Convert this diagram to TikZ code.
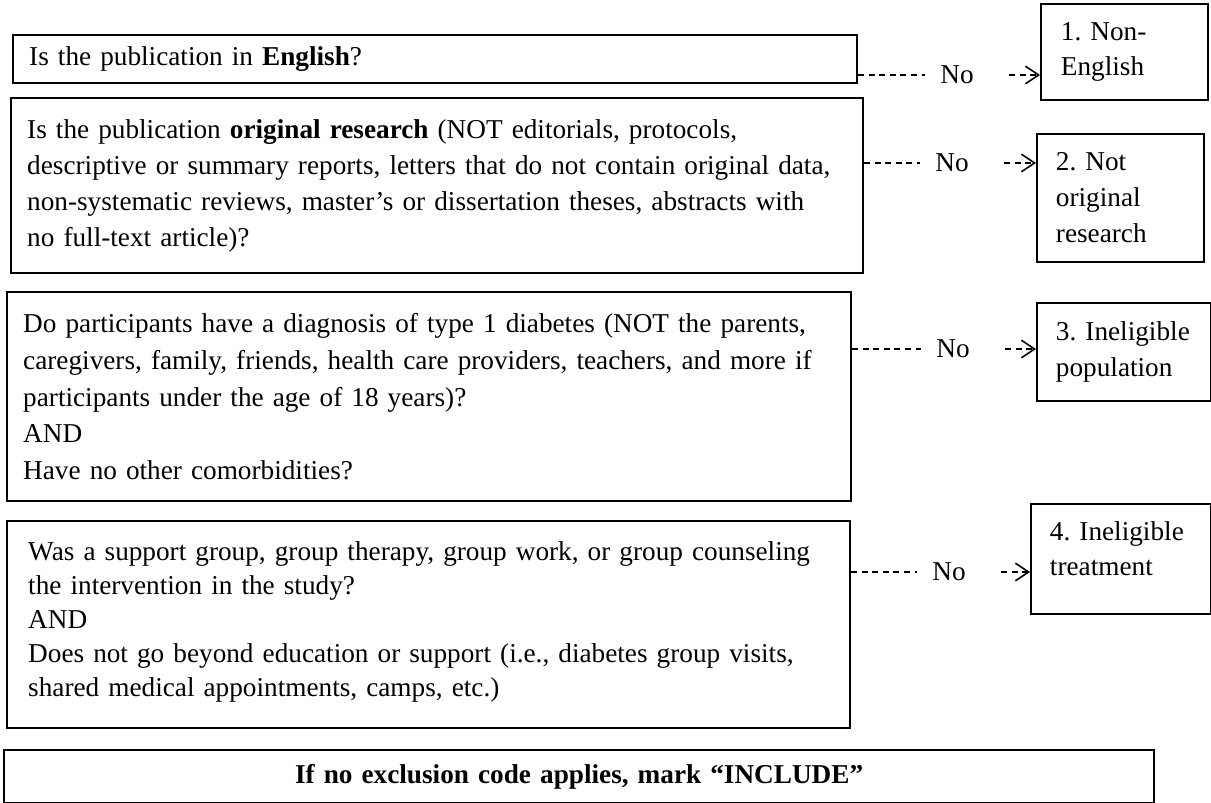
\documentclass[tikz,border=0pt]{standalone}
\usepackage{fontspec}
\setmainfont{Liberation Serif}
\usetikzlibrary{arrows.meta}
\frenchspacing
\hyphenpenalty=10000
\exhyphenpenalty=10000

\tikzset{
  qbox/.style={draw, line width=1.4pt, rectangle, anchor=north west, align=left,
    inner xsep=0.32cm, inner ysep=0pt, font=\fontsize{15.5}{20.4}\selectfont},
  codebox/.style={draw, line width=1.1pt, rectangle, anchor=north west, align=left,
    inner xsep=0.38cm, inner ysep=0pt, font=\fontsize{15.5}{20.4}\selectfont},
  nolabel/.style={inner sep=0pt, font=\fontsize{15.5}{20.4}\selectfont},
  nolink/.style={dash pattern=on 3.4pt off 2.6pt, line width=0.8pt},
  noarrow/.style={nolink, -{Straight Barb[length=7.5pt,width=10pt,line width=0.9pt]}}
}

\begin{document}
\begin{tikzpicture}[x=0.02cm, y=-0.02cm]
  \useasboundingbox (0,0) rectangle (1211,803);

  % Questions
  \node[qbox, text width=16.24cm, minimum height=0.96cm] (q1) at (12,34)
    {Is the publication in \textbf{English}?};
  \node[qbox, text width=16.40cm, minimum height=3.5cm] (q2) at (10,97)
    {Is the publication \textbf{original research} (NOT editorials, protocols,\\
     descriptive or summary reports, letters that do not contain original data,\\
     non-systematic reviews, master’s or dissertation theses, abstracts with\\
     no full-text article)?};
  \node[qbox, text width=16.24cm, minimum height=4.18cm,
    font=\fontsize{15.5}{20.9}\selectfont] (q3) at (6,291)
    {Do participants have a diagnosis of type 1 diabetes (NOT the parents,\\
     caregivers, family, friends, health care providers, teachers, and more if\\
     participants under the age of 18 years)?\\
     AND\\
     Have no other comorbidities?};
  \node[qbox, text width=16.02cm, inner xsep=0.42cm, minimum height=4.14cm,
    font=\fontsize{15.5}{19.3}\selectfont] (q4) at (6,520)
    {Was a support group, group therapy, group work, or group counseling\\
     the intervention in the study?\\
     AND\\
     Does not go beyond education or support (i.e., diabetes group visits,\\
     shared medical appointments, camps, etc.)\\[-0.45cm]\mbox{}};

  % Exclusion codes
  \node[codebox, text width=2.54cm, inner xsep=0.4cm, minimum height=1.92cm] (r1) at (1040,3)
    {1. Non-\\English};
  \node[codebox, text width=2.58cm, minimum height=2.56cm] (r2) at (1036,133)
    {2. Not\\original\\research};
  \node[codebox, text width=2.72cm, minimum height=1.96cm] (r3) at (1036,302)
    {3. Ineligible\\population};
  \node[codebox, text width=2.84cm, minimum height=2.2cm] (r4) at (1030,503)
    {4. Ineligible\\treatment\\[-0.3cm]\mbox{}};

  % Include
  \node[qbox, align=center, text width=22.36cm, minimum height=1.06cm,
    font=\fontsize{15.5}{20.4}\selectfont\bfseries] (inc) at (3,749)
    {If no exclusion code applies, mark “INCLUDE”};

  % No links
  \node[nolabel] (n1) at (957,75) {No};
  \node[nolabel] (n2) at (952,163) {No};
  \node[nolabel] (n3) at (953,349) {No};
  \node[nolabel] (n4) at (949,572) {No};

  \draw[nolink, shorten >=0.3cm] (q1.east |- n1) -- (n1);
  \draw[noarrow, shorten <=0.7cm] (n1) -- (n1 -| r1.west);
  \draw[nolink, shorten >=0.3cm] (q2.east |- n2) -- (n2);
  \draw[noarrow, shorten <=0.7cm] (n2) -- (n2 -| r2.west);
  \draw[nolink, shorten >=0.3cm] (q3.east |- n3) -- (n3);
  \draw[noarrow, shorten <=0.7cm] (n3) -- (n3 -| r3.west);
  \draw[nolink, shorten >=0.3cm] (q4.east |- n4) -- (n4);
  \draw[noarrow, shorten <=0.7cm] (n4) -- (n4 -| r4.west);
\end{tikzpicture}
\end{document}
